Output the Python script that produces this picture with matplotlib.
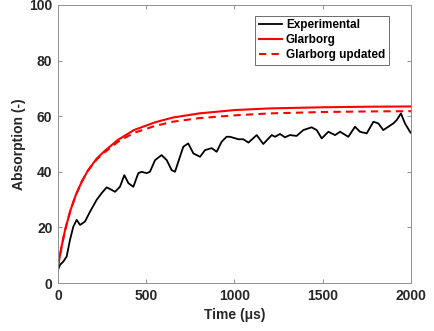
import matplotlib
matplotlib.use('Agg')
import matplotlib.pyplot as plt

plt.rcParams['font.family'] = ['Liberation Sans', 'DejaVu Sans']
plt.rcParams['font.weight'] = 'bold'

# Experimental trace
t_exp = [0, 11, 30, 49, 68, 87, 106, 125, 153, 181, 219, 247, 276, 304, 323, 351,
         376, 399, 427, 455, 474, 502, 521, 550, 587, 616, 644, 663, 691, 710,
         738, 767, 805, 833, 871, 899, 927, 955, 974, 1022, 1050, 1079, 1126,
         1163, 1211, 1230, 1258, 1286, 1314, 1352, 1390, 1437, 1466, 1494, 1532,
         1570, 1598, 1645, 1683, 1711, 1749, 1787, 1815, 1843, 1900, 1919, 1943,
         1966, 1994, 2000]
a_exp = [4.7, 6.5, 7.7, 9.5, 15.5, 20.3, 22.7, 20.9, 22.1, 25.6, 29.9, 32.3, 34.4,
         33.5, 32.8, 34.6, 38.8, 35.9, 34.6, 39.5, 40.0, 39.5, 40.0, 44.2, 46.0,
         44.2, 40.6, 40.0, 45.4, 49.0, 50.2, 46.6, 45.4, 47.8, 48.5, 47.2, 50.8,
         52.6, 52.6, 51.7, 51.7, 50.5, 53.2, 50.0, 53.2, 52.6, 53.6, 52.4, 53.2,
         52.9, 55.0, 56.0, 55.0, 52.0, 54.4, 53.2, 54.4, 52.6, 56.2, 54.4, 53.8,
         58.0, 57.4, 55.0, 57.4, 58.6, 61.0, 57.4, 54.4, 54.0]

# Model curves
t_mod = [0, 20, 40, 70, 100, 135, 170, 220, 270, 340, 430, 550, 650, 800, 1000,
         1200, 1500, 1750, 2000]
a_glarborg = [6, 13, 19, 26, 31.5, 36.5, 40.5, 44.8, 47.8, 51.5, 55, 57.8, 59.5,
              61, 62.2, 62.8, 63.2, 63.4, 63.5]
a_updated = [6, 13, 19, 26, 31.5, 36.5, 40.4, 44.5, 47.3, 50.8, 54, 56.5, 58,
             59.3, 60.3, 61, 61.5, 61.7, 61.8]

fig = plt.figure(figsize=(4.35, 3.31), dpi=100)
ax = fig.add_axes([0.1333, 0.145, 0.8115, 0.84])

ax.plot(t_exp, a_exp, color='black', lw=1.3, label='Experimental')
ax.plot(t_mod, a_glarborg, color='#ff0000', lw=1.5, label='Glarborg')
ax.plot(t_mod, a_updated, color='#ff0000', lw=1.5, ls=(0, (3.5, 2.5)), label='Glarborg updated')

ax.set_xlim(0, 2000)
ax.set_ylim(0, 100)
ax.set_xticks([0, 500, 1000, 1500, 2000])
ax.set_yticks([0, 20, 40, 60, 80, 100])
ax.tick_params(direction='in', top=True, right=True, length=3, width=0.6,
               color='#808080', labelcolor='#262626', labelsize=10, pad=4)
for s in ax.spines.values():
    s.set_color('#909090')
    s.set_linewidth(0.7)

ax.set_xlabel('Time (μs)', fontsize=10, fontweight='bold', color='#262626')
ax.set_ylabel('Absorption (-)', fontsize=10, fontweight='bold', color='#262626', labelpad=2)

leg = ax.legend(loc='upper right', bbox_to_anchor=(0.937, 0.962), borderaxespad=0,
                fontsize=8.5, fancybox=False, edgecolor='#555555', framealpha=1,
                handlelength=2.0, borderpad=0.3, labelspacing=0.25, handletextpad=0.3)
leg.get_frame().set_linewidth(0.6)

fig.savefig('out.png', dpi=100)
